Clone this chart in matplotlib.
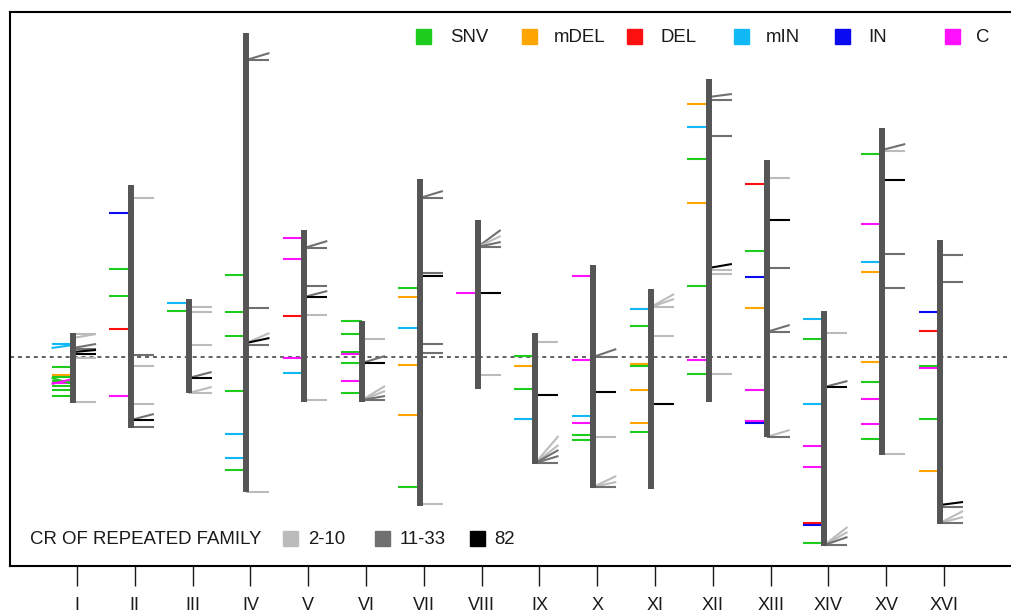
import matplotlib
matplotlib.use("Agg")
import matplotlib.pyplot as plt
from matplotlib.patches import Rectangle

# chromosomes, top/bottom ends as distance from the centromere (up = positive)
chrom_names = ["I", "II", "III", "IV", "V", "VI", "VII", "VIII",
               "IX", "X", "XI", "XII", "XIII", "XIV", "XV", "XVI"]
chrom_top = [24, 172, 58, 324, 127, 36, 178, 137, 24, 92, 68, 278, 197, 46, 229, 117]
chrom_bottom = [-46, -71, -36, -135, -45, -45, -149, -32, -107, -131, -132, -45, -80, -189, -98, -167]

# mutations (left side of each chromosome)
mut_chrom = (["I"] * 9 + ["II"] * 5 + ["III"] * 2 + ["IV"] * 7 + ["V"] * 5 + ["VI"] * 7
             + ["VII"] * 6 + ["VIII"] * 1 + ["IX"] * 4 + ["X"] * 6 + ["XI"] * 7 + ["XII"] * 7
             + ["XIII"] * 7 + ["XIV"] * 8 + ["XV"] * 9 + ["XVI"] * 6)
mut_pos = [13, -10, -18, -20, -24, -26, -29, -33, -39,
           144, 88, 61, 28, -39,
           54, 46,
           82, 45, 21, -34, -77, -101, -113,
           119, 98, 41, -1, -16,
           36, 23, 5, 3, -6, -24, -36,
           69, 60, 29, -8, -58, -130,
           64,
           1, -9, -32, -62,
           81, -3, -59, -66, -78, -83,
           48, 31, -7, -9, -33, -66, -75,
           253, 230, 198, 154, 71, -3, -17,
           173, 106, 80, 49, -33, -64, -66,
           38, 18, -47, -89, -110, -166, -168, -186,
           203, 133, 95, 85, -5, -25, -42, -67, -82,
           45, 26, -9, -11, -62, -114]
mut_type = ["mIN", "SNV", "mDEL", "SNV", "SNV", "C", "SNV", "SNV", "SNV",
            "IN", "SNV", "SNV", "DEL", "C",
            "mIN", "SNV",
            "SNV", "SNV", "SNV", "SNV", "mIN", "mIN", "SNV",
            "C", "C", "DEL", "C", "mIN",
            "SNV", "SNV", "SNV", "C", "SNV", "C", "SNV",
            "SNV", "mDEL", "mIN", "mDEL", "mDEL", "SNV",
            "C",
            "SNV", "mDEL", "SNV", "mIN",
            "C", "C", "mIN", "C", "SNV", "SNV",
            "mIN", "SNV", "mDEL", "SNV", "mDEL", "mDEL", "SNV",
            "mDEL", "mIN", "SNV", "mDEL", "SNV", "C", "SNV",
            "DEL", "SNV", "IN", "mDEL", "C", "C", "IN",
            "mIN", "SNV", "mIN", "C", "C", "DEL", "IN", "SNV",
            "SNV", "C", "mIN", "mDEL", "mDEL", "SNV", "C", "C", "SNV",
            "IN", "DEL", "SNV", "C", "SNV", "mDEL"]
# slanted mutation marks on chr I: (chrom, pos at bar, type, pos at outer end)
mut_slanted = [("I", 12, "mIN", 9), ("I", -27, "SNV", -21), ("I", -22, "C", -27)]

# repeated families (right side): chrom, pos, copy-number class, rise of the outer end
rep_chrom = (["I"] * 8 + ["II"] * 7 + ["III"] * 7 + ["IV"] * 7 + ["V"] * 7 + ["VI"] * 7
             + ["VII"] * 7 + ["VIII"] * 6 + ["IX"] * 7 + ["X"] * 7 + ["XI"] * 5 + ["XII"] * 7
             + ["XIII"] * 7 + ["XIV"] * 7 + ["XV"] * 6 + ["XVI"] * 7)
rep_pos = [23, 19, 9, 8, 5, 3, -1, -45,
           159, 2, -9, -47, -63, -63, -70,
           50, 45, 12, -21, -21, -36, -36,
           297, 297, 49, 14, 14, 12, -135,
           109, 109, 71, 60, 60, 42, -43,
           18, -6, -6, -43, -43, -43, -43,
           159, 159, 84, 81, 13, 4, -147,
           110, 110, 110, 110, 64, -18,
           15, -38, -106, -106, -106, -106, -106,
           0, 0, -35, -80, -130, -130, -130,
           50, 50, 50, 21, -47,
           260, 257, 221, 89, 87, 83, -17,
           179, 137, 89, 25, 25, -80, -80,
           24, -30, -30, -188, -188, -188, -188,
           207, 206, 177, 103, 69, -97,
           102, 75, -148, -150, -166, -166, -166]
rep_cr = ["2-10", "2-10", "11-33", "11-33", "82", "82", "2-10", "2-10",
          "2-10", "11-33", "2-10", "2-10", "11-33", "82", "11-33",
          "2-10", "2-10", "2-10", "11-33", "82", "2-10", "2-10",
          "11-33", "11-33", "11-33", "2-10", "82", "11-33", "2-10",
          "11-33", "11-33", "11-33", "11-33", "82", "2-10", "2-10",
          "2-10", "11-33", "82", "2-10", "2-10", "11-33", "11-33",
          "11-33", "11-33", "11-33", "82", "11-33", "11-33", "2-10",
          "11-33", "2-10", "11-33", "11-33", "82", "2-10",
          "2-10", "82", "2-10", "2-10", "11-33", "11-33", "11-33",
          "11-33", "11-33", "82", "2-10", "2-10", "2-10", "11-33",
          "2-10", "2-10", "2-10", "2-10", "82",
          "11-33", "11-33", "11-33", "82", "2-10", "2-10", "2-10",
          "2-10", "82", "11-33", "11-33", "11-33", "2-10", "11-33",
          "2-10", "11-33", "82", "2-10", "2-10", "11-33", "11-33",
          "11-33", "2-10", "82", "11-33", "11-33", "2-10",
          "11-33", "11-33", "82", "11-33", "2-10", "2-10", "11-33"]
rep_rise = [0, 4, 4, 0, 2, 0, 0, 0,
            0, 0, 0, 0, 6, 0, 0,
            0, 0, 0, 6, 0, 6, 0,
            7, 0, 0, 10, 5, 0, 0,
            7, 0, 0, 6, 0, 0, 0,
            0, 7, 0, 14, 9, 4, 0,
            7, 0, 0, 0, 0, 0, 0,
            17, 11, 5, 0, 0, 0,
            0, 0, 27, 18, 13, 7, 0,
            8, 0, 0, 0, 11, 5, 0,
            13, 8, 0, 0, 0,
            3, 0, 0, 4, 0, 0, 0,
            0, 0, 0, 7, 0, 7, 0,
            0, 6, 0, 18, 13, 8, 0,
            6, 0, 0, 0, 0, 0,
            0, 0, 3, 0, 12, 6, 0]

mut_colors = {"SNV": "#1ECC1E", "mDEL": "#FFA500", "DEL": "#FF1010",
              "mIN": "#10B8F5", "IN": "#0A0AF0", "C": "#FF10FF"}
cr_colors = {"2-10": "#BBBBBB", "11-33": "#707070", "82": "#000000"}

W, H = 1011, 615
fig = plt.figure(figsize=(W / 100, H / 100), dpi=100)
ax = fig.add_axes([10 / W, (H - 566) / H, 1 - 10 / W, (566 - 12) / H])

xpos = {name: i + 1 for i, name in enumerate(chrom_names)}
shift = -0.07          # bars sit a touch left of their tick
left_len, right_len = 0.37, 0.40

ax.axhline(0, color="#555555", lw=1.3, ls=(0, (2.2, 2.2)), zorder=1)

for c, p, t in zip(mut_chrom, mut_pos, mut_type):
    x = xpos[c] + shift
    ax.plot([x - left_len, x], [p, p], color=mut_colors[t], lw=1.5,
            solid_capstyle="butt", zorder=2)
for c, p, t, pe in mut_slanted:
    x = xpos[c] + shift
    ax.plot([x - left_len, x], [pe, p], color=mut_colors[t], lw=1.5,
            solid_capstyle="butt", zorder=2)

for c, p, cr, r in zip(rep_chrom, rep_pos, rep_cr, rep_rise):
    x = xpos[c] + shift
    ax.plot([x, x + right_len], [p, p + r], color=cr_colors[cr], lw=1.5,
            solid_capstyle="butt", zorder=2)

for name, top, bot in zip(chrom_names, chrom_top, chrom_bottom):
    x = xpos[name] + shift
    ax.plot([x, x], [bot, top], color="#555555", lw=4.3,
            solid_capstyle="butt", zorder=3)

ax.set_xlim(-0.159, 17.159)
ax.set_ylim(-209, 345)
ax.set_xticks(range(1, 17))
ax.set_xticklabels(chrom_names, fontsize=13, family="Liberation Sans", color="#1a1a1a")
ax.tick_params(axis="x", length=14.4, width=1, pad=8, color="#1a1a1a")
ax.set_yticks([])
ax.spines["right"].set_visible(False)
for s in ["left", "top", "bottom"]:
    ax.spines[s].set_linewidth(1.5)

def px(x, y):
    return x / W, 1 - y / H

fs = 13.4
# mutation type legend (top)
legend_x = [416, 522, 627, 734, 835, 945]
text_x = [450, 554, 660, 766, 868, 976]
for lab, sx, tx in zip(["SNV", "mDEL", "DEL", "mIN", "IN", "C"], legend_x, text_x):
    fig.patches.append(Rectangle(px(sx, 44), 15 / W, 15 / H, transform=fig.transFigure,
                                 color=mut_colors[lab]))
    fig.text(*px(tx, 37), lab, fontsize=fs, family="Liberation Sans",
             va="center", ha="left", color="#1a1a1a")

# copy-number legend (bottom)
fig.text(*px(30, 539), "CR OF REPEATED FAMILY", fontsize=fs, family="Liberation Sans",
         va="center", ha="left", color="#1a1a1a")
for lab, sx, tx in zip(["2-10", "11-33", "82"], [283, 375, 470], [308, 400, 494]):
    fig.patches.append(Rectangle(px(sx, 546), 15 / W, 15 / H, transform=fig.transFigure,
                                 color=cr_colors[lab]))
    fig.text(*px(tx, 539), lab, fontsize=fs, family="Liberation Sans",
             va="center", ha="left", color="#1a1a1a")

fig.savefig("out.png", dpi=100)
